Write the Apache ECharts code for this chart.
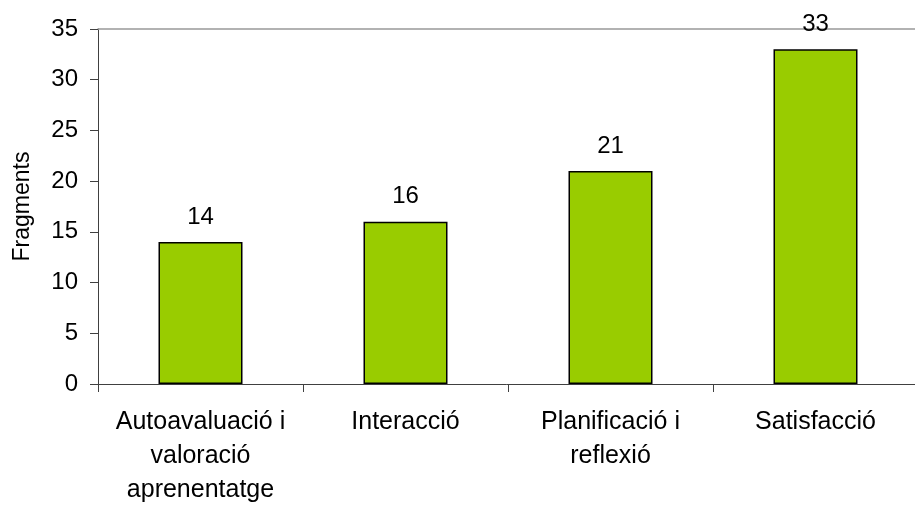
<!DOCTYPE html>
<html>
<head>
<meta charset="utf-8">
<script src="https://cdn.jsdelivr.net/npm/echarts@6/dist/echarts.min.js"></script>
<style>html,body{margin:0;padding:0;background:#fff}#c{width:915px;height:506px}</style>
</head>
<body>
<div id="c"></div>
<script>
var categories = ['Autoavaluació i\nvaloració\naprenentatge', 'Interacció', 'Planificació i\nreflexió', 'Satisfacció'];
var values = [14, 16, 21, 33];
var yMin = 0, yMax = 35, yStep = 5;
var yName = 'Fragments';

var chart = echarts.init(document.getElementById('c'), null, {renderer: 'canvas'});
var font = 'Liberation Sans, Arial, sans-serif';
chart.setOption({
  animation: false,
  backgroundColor: '#fff',
  grid: {left: 98, top: 29, width: 820, bottom: 122, containLabel: false, outerBoundsMode: 'none'},
  xAxis: [{
    type: 'category',
    data: categories,
    axisLine: {show: true, lineStyle: {color: '#404040', width: 1}},
    axisTick: {show: true, length: 8, alignWithLabel: false, lineStyle: {color: '#404040'}},
    axisLabel: {color: '#000', fontSize: 25, fontFamily: font, lineHeight: 34, margin: 21, interval: 0}
  }, {
    type: 'category',
    position: 'top',
    data: categories,
    axisLine: {show: true, lineStyle: {color: '#999', width: 1.5}},
    axisTick: {show: false},
    axisLabel: {show: false}
  }],
  yAxis: {
    type: 'value',
    min: yMin, max: yMax, interval: yStep,
    name: yName,
    nameLocation: 'middle',
    nameGap: 64,
    nameRotate: 90,
    nameTextStyle: {color: '#000', fontSize: 23, fontFamily: font},
    axisLine: {show: true, lineStyle: {color: '#404040', width: 1}},
    axisTick: {show: true, length: 8, lineStyle: {color: '#404040'}},
    axisLabel: {color: '#000', fontSize: 24, fontFamily: font, margin: 20},
    splitLine: {show: false}
  },
  series: [{
    type: 'bar',
    data: values,
    barWidth: 84,
    itemStyle: {color: '#99CC00', borderColor: '#000', borderWidth: 1.5},
    label: {show: true, position: 'top', distance: 13, color: '#000', fontSize: 24, fontFamily: font}
  }]
});
</script>
</body>
</html>
